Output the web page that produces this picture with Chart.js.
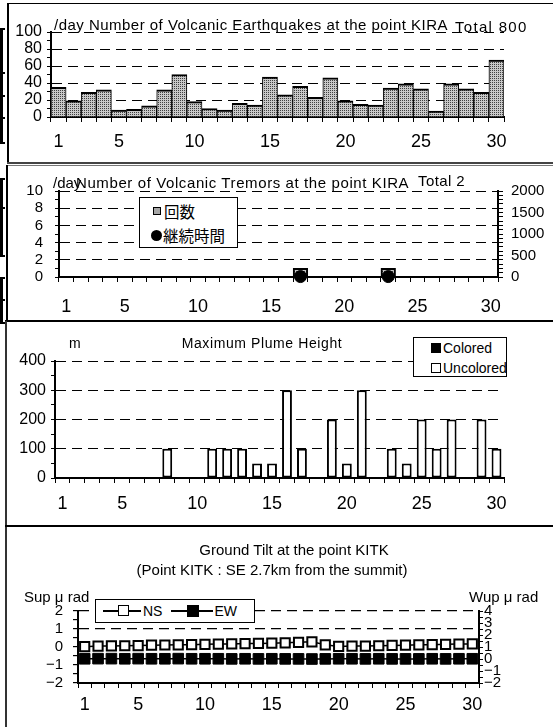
<!DOCTYPE html>
<html>
<head>
<meta charset="utf-8">
<title>KIRA monthly activity</title>
<script src="https://cdn.jsdelivr.net/npm/chart.js@4.4.1/dist/chart.umd.min.js"></script>
<style>
  body { margin: 0; background: #fff; }
  #page { position: relative; width: 553px; height: 727px; overflow: hidden; background: #fff; color: #000;
          font-family: "Liberation Sans", Arial, sans-serif; }
  #page canvas { position: absolute; left: 0; }
  .ln { position: absolute; background: #000; }
  .txt { position: absolute; white-space: nowrap; z-index: 3; }
  .legend { position: absolute; background: #fff; border: 1px solid #000; box-sizing: border-box; z-index: 2; }
  .row { position: absolute; height: 20px; display: flex; align-items: center; white-space: nowrap; }
  .row i { display: inline-block; box-sizing: border-box; flex: none; }
</style>
</head>
<body>
<div id="page">
  <!-- panel frames -->
  <div class="ln" style="left:7px;top:3px;width:546px;height:1px"></div>
  <div class="ln" style="left:7px;top:3px;width:2px;height:160px"></div>
  <div class="ln" style="left:7px;top:162px;width:546px;height:2px;background:#444"></div>
  <div class="ln" style="left:7px;top:165px;width:546px;height:1px;background:#777"></div>
  <div class="ln" style="left:6px;top:165px;width:2px;height:156px"></div>
  <div class="ln" style="left:5px;top:320px;width:548px;height:2px"></div>
  <div class="ln" style="left:5px;top:321px;width:2px;height:406px;background:#333"></div>
  <div class="ln" style="left:5px;top:525px;width:548px;height:2px"></div>
  <!-- stray brackets at the left edge -->
  <div class="ln" style="left:0;top:28px;width:3px;height:116px"></div>
  <div class="ln" style="left:0;top:28px;width:5px;height:2px"></div>
  <div class="ln" style="left:0;top:72px;width:5px;height:2px"></div>
  <div class="ln" style="left:0;top:95px;width:5px;height:2px"></div>
  <div class="ln" style="left:0;top:117px;width:5px;height:2px"></div>
  <div class="ln" style="left:0;top:142px;width:5px;height:2px"></div>
  <div class="ln" style="left:0;top:178px;width:3px;height:79px"></div>
  <div class="ln" style="left:0;top:178px;width:5px;height:2px"></div>
  <div class="ln" style="left:0;top:207px;width:5px;height:2px"></div>
  <div class="ln" style="left:0;top:255px;width:5px;height:2px"></div>
  <div class="ln" style="left:0;top:277px;width:3px;height:47px"></div>
  <div class="ln" style="left:0;top:277px;width:5px;height:2px"></div>
  <div class="ln" style="left:0;top:299px;width:5px;height:2px"></div>
  <div class="ln" style="left:0;top:322px;width:5px;height:2px"></div>

  <canvas id="quakeChart" width="553" height="163" style="top:0"></canvas>
  <canvas id="tremorChart" width="553" height="156" style="top:165px"></canvas>
  <canvas id="plumeChart" width="553" height="204" style="top:321px"></canvas>
  <canvas id="tiltChart" width="553" height="200" style="top:527px"></canvas>

  <div class="legend" style="left:139px;top:197px;width:99px;height:51px">
    <div class="row" style="left:13px;top:3px">
      <i style="width:8px;height:8px;border:1px solid #000;background:#a6a6a6"></i>
      <span style="font-family:'Noto Sans CJK JP',sans-serif;font-size:15.5px;margin-left:3px">回数</span>
    </div>
    <div class="row" style="left:11px;top:27px">
      <i style="width:11px;height:11px;border-radius:50%;background:#000"></i>
      <span style="font-family:'Noto Sans CJK JP',sans-serif;font-size:15.5px;margin-left:1px">継続時間</span>
    </div>
  </div>

  <div class="legend" style="left:413px;top:337px;width:94px;height:40px">
    <div class="row" style="left:17px;top:0px;font-size:14px">
      <i style="width:10px;height:10px;background:#000"></i><span style="margin-left:2px">Colored</span>
    </div>
    <div class="row" style="left:17px;top:20px;font-size:14px">
      <i style="width:10px;height:10px;border:1.5px solid #000;background:#fff"></i><span style="margin-left:2px">Uncolored</span>
    </div>
  </div>

  <div class="legend" style="left:95px;top:599px;width:160px;height:24px">
    <div class="row" style="left:7px;top:1px;font-size:14px">
      <i style="position:relative;width:38px;height:12px">
        <i style="position:absolute;left:0;top:5px;width:38px;height:1.5px;background:#000"></i>
        <i style="position:absolute;left:15px;top:0;width:11px;height:11px;border:1.5px solid #000;background:#fff"></i>
      </i><span style="margin-left:2px">NS</span>
      <i style="position:relative;width:42px;height:12px;margin-left:9px">
        <i style="position:absolute;left:0;top:5px;width:42px;height:1.5px;background:#000"></i>
        <i style="position:absolute;left:16px;top:0;width:12px;height:12px;background:#000"></i>
      </i><span style="margin-left:1px">EW</span>
    </div>
  </div>
</div>

<script>
// ---- data ----
const days = [1, 2, 3, 4, 5, 6, 7, 8, 9, 10, 11, 12, 13, 14, 15,
              16, 17, 18, 19, 20, 21, 22, 23, 24, 25, 26, 27, 28, 29, 30];
const dayLabels = [1, 5, 10, 15, 20, 25, 30];

// volcanic earthquakes per day (total 800)
const quakeCounts = [35, 19, 29, 32, 8, 9, 13, 32, 50, 18, 10, 8, 16, 14, 47,
                     26, 36, 23, 46, 19, 15, 14, 34, 39, 33, 7, 39, 33, 29, 67];

// volcanic tremors (total 2) and their duration
const tremorCounts = [null, null, null, null, null, null, null, null, null, null, null, null, null, null, null,
                      null, 1, null, null, null, null, null, 1, null, null, null, null, null, null, null];
const tremorDuration = [null, null, null, null, null, null, null, null, null, null, null, null, null, null, null,
                        null, 10, null, null, null, null, null, 10, null, null, null, null, null, null, null];

// maximum plume height (m)
const plumeColored = [null, null, null, null, null, null, null, null, null, null, null, null, null, null, null,
                      null, null, null, null, null, null, null, null, null, null, null, null, null, null, null];
const plumeUncolored = [null, null, null, null, null, null, null, 100, null, null, 100, 100, 100, 50, 50,
                        300, 100, null, 200, 50, 300, null, 100, 50, 200, 100, 200, null, 200, 100];

// ground tilt at KITK (micro rad)
const tiltNS = [0.02, 0.05, 0.06, 0.07, 0.08, 0.10, 0.11, 0.12, 0.13, 0.15, 0.16, 0.17, 0.19, 0.20, 0.21,
                0.23, 0.26, 0.29, 0.12, 0.03, 0.05, 0.05, 0.07, 0.09, 0.10, 0.12, 0.13, 0.15, 0.16, 0.17];
const tiltEW = [0.02, 0.03, 0.03, 0.02, 0.03, 0.02, 0.02, 0.03, 0.02, 0.02, 0.02, 0.01, 0.02, 0.01, 0.02,
                0.01, 0.01, 0.00, 0.01, 0.02, 0.02, 0.01, 0.02, 0.01, 0.01, 0.01, 0.02, 0.01, 0.02, 0.02];

// ---- helpers ----
const SANS = "'Liberation Sans', Arial, sans-serif";
const page = document.getElementById('page');

function addText(txt, x, base, size, align, spacing) {
  const d = document.createElement('div');
  d.className = 'txt';
  d.textContent = txt;
  d.style.fontFamily = SANS;
  d.style.fontSize = size + 'px';
  d.style.lineHeight = '1';
  if (spacing) d.style.letterSpacing = spacing + 'px';
  d.style.top = (base - size * 0.85) + 'px';
  d.style.left = x + 'px';
  if (align === 'center') d.style.transform = 'translateX(-50%)';
  page.appendChild(d);
}

function dotPattern() {
  const c = document.createElement('canvas');
  c.width = 2; c.height = 2;
  const g = c.getContext('2d');
  g.fillStyle = '#c8c8c8';
  g.fillRect(0, 0, 2, 2);
  g.fillStyle = '#404040';
  g.fillRect(0, 0, 1, 1);
  return g.createPattern(c, 'repeat');
}
const dots = dotPattern();

const minus = v => String(v).replace('-', '\u2212');

function xAxis(height, pad) {
  return {
    type: 'category',
    offset: true,
    grid: { offset: true, drawOnChartArea: false, tickLength: 5, color: '#000' },
    border: { color: '#000', width: 2 },
    ticks: {
      autoSkip: false, maxRotation: 0, color: '#000', padding: pad,
      font: { family: SANS, size: 18 },
      callback: (v, i) => dayLabels.includes(days[i]) ? String(days[i]) : ''
    },
    afterFit: s => { s.height = height; }
  };
}

function yAxis(o) {
  return {
    position: o.pos || 'left',
    min: o.min, max: o.max,
    grid: {
      drawOnChartArea: !!o.gridAt,
      color: c => (o.gridAt && c.tick && o.gridAt(c.tick.value)) ? '#000' : 'rgba(0,0,0,0)',
      lineWidth: o.gridWidth || 1,
      tickColor: '#000', tickLength: o.tick || 4
    },
    border: { color: '#000', width: 2, dash: [10, 6] },
    ticks: {
      stepSize: o.step, autoSkip: false, color: '#000', padding: o.pad,
      font: { family: SANS, size: o.size || 16 },
      callback: v => o.label(v) ? minus(v) : ''
    },
    afterFit: s => { s.width = o.width; }
  };
}

function baseOptions(pad, scales) {
  return {
    responsive: false, animation: false, devicePixelRatio: 1, events: [],
    layout: { padding: pad },
    plugins: { legend: { display: false }, tooltip: { enabled: false } },
    scales: scales
  };
}

// ---- 1: volcanic earthquakes ----
new Chart(document.getElementById('quakeChart'), {
  type: 'bar',
  data: {
    labels: days,
    datasets: [{
      label: 'earthquakes', data: quakeCounts,
      backgroundColor: dots, borderColor: '#000',
      borderWidth: { top: 2, left: 1, right: 1, bottom: 0 }, borderSkipped: false,
      barPercentage: 1, categoryPercentage: 1
    }]
  },
  options: baseOptions({ top: 32, right: 49, left: 0, bottom: 0 }, {
    x: xAxis(46, 9),
    y: yAxis({ min: 0, max: 100, step: 10, width: 51, pad: 5,
               label: v => v % 20 === 0, gridAt: v => v > 0 && v % 20 === 0 })
  })
});
addText('/day Number of Volcanic Earthquakes at the point KIRA', 54, 30, 15, null, 0.48);
addText('Total 800', 455, 32, 15, null, 1.3);

// ---- 2: volcanic tremors ----
new Chart(document.getElementById('tremorChart'), {
  data: {
    labels: days,
    datasets: [
      { type: 'bar', label: '回数', data: tremorCounts, yAxisID: 'y', order: 1,
        backgroundColor: dots, borderColor: '#000', borderWidth: 2, borderSkipped: false,
        barPercentage: 1, categoryPercentage: 1 },
      { type: 'line', label: '継続時間', data: tremorDuration, yAxisID: 'y1', order: 0,
        showLine: false, clip: false, pointRadius: 6, pointBackgroundColor: '#000', pointBorderColor: '#000' }
    ]
  },
  options: baseOptions({ top: 26, right: 0, left: 0, bottom: 0 }, {
    x: xAxis(44, 14),
    y: yAxis({ min: 0, max: 10, step: 1, width: 59, pad: 12, size: 15,
               label: v => v % 2 === 0, gridAt: v => v > 0 && v % 2 === 0 }),
    y1: yAxis({ pos: 'right', min: 0, max: 2000, step: 100, width: 55, pad: 8, tick: 5, size: 15,
                label: v => v % 500 === 0 })
  })
});
addText('/day', 53, 188, 15);
addText('Number of Volcanic Tremors at the point KIRA', 76, 188, 15, null, 0.6);
addText('Total 2', 418, 186, 15, null, 0.4);

// ---- 3: plume height ----
new Chart(document.getElementById('plumeChart'), {
  type: 'bar',
  data: {
    labels: days,
    datasets: [
      { label: 'Colored', data: plumeColored, backgroundColor: '#000', borderColor: '#000',
        borderWidth: 2, borderSkipped: false, barPercentage: 0.66, categoryPercentage: 1 },
      { label: 'Uncolored', data: plumeUncolored, backgroundColor: '#fff', borderColor: '#000',
        borderWidth: 2, borderSkipped: false, barPercentage: 0.66, categoryPercentage: 1 }
    ]
  },
  options: baseOptions({ top: 40, right: 49, left: 0, bottom: 0 }, {
    x: Object.assign(xAxis(47, 10), { stacked: true }),
    y: Object.assign(yAxis({ min: 0, max: 400, step: 50, width: 55, pad: 5,
               label: v => v % 100 === 0, gridAt: v => v > 0 && v % 100 === 0 }), { stacked: true })
  })
});
addText('m', 69, 348, 14);
addText('Maximum Plume Height', 262, 348, 14, 'center', 0.6);

// ---- 4: ground tilt ----
new Chart(document.getElementById('tiltChart'), {
  type: 'line',
  data: {
    labels: days,
    datasets: [
      { label: 'NS', data: tiltNS, yAxisID: 'y', order: 0, borderColor: '#000', borderWidth: 1.5,
        pointStyle: 'rect', pointRadius: 6.5, pointBackgroundColor: '#fff',
        pointBorderColor: '#000', pointBorderWidth: 2, clip: false },
      { label: 'EW', data: tiltEW, yAxisID: 'y1', order: 1, borderColor: '#000', borderWidth: 1.5,
        pointStyle: 'rect', pointRadius: 7.5, pointBackgroundColor: '#000',
        pointBorderColor: '#000', pointBorderWidth: 1, clip: false }
    ]
  },
  options: baseOptions({ top: 84, right: 0, left: 0, bottom: 0 }, {
    x: xAxis(44, 6),
    y: yAxis({ min: -2, max: 2, step: 0.5, width: 78, pad: 10, tick: 5, size: 15,
               label: v => Number.isInteger(v), gridAt: v => v === 1 || v === 2, gridWidth: 1.2 }),
    y1: yAxis({ pos: 'right', min: -2, max: 4, step: 0.5, width: 74, pad: 1, tick: 4, size: 15,
                label: v => Number.isInteger(v) })
  })
});
addText('Ground Tilt at the point KITK', 294, 555, 15, 'center');
addText('(Point KITK : SE 2.7km from the summit)', 272, 575, 15, 'center');
addText('Sup \u03bc rad', 24, 602, 15);
addText('Wup \u03bc rad', 469, 602, 15);
</script>
</body>
</html>
